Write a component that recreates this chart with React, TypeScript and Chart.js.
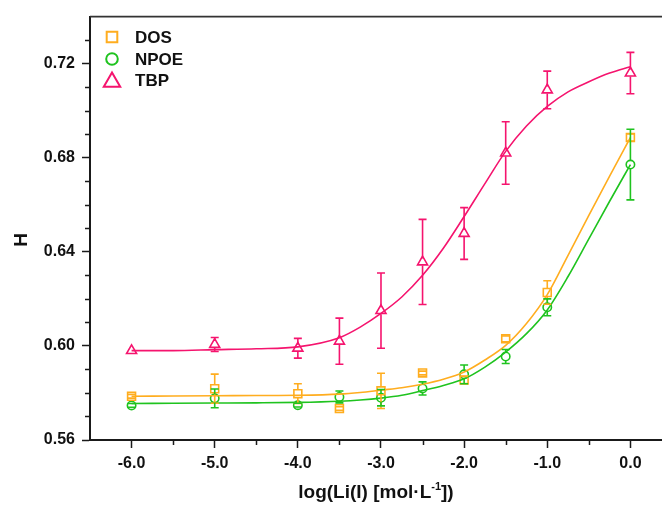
import React, { useEffect, useRef } from 'react';
import { Chart, registerables } from 'chart.js';

Chart.register(...registerables);

// ---- Data ----
const concentrations = [-6, -5, -4, -3.5, -3, -2.5, -2, -1.5, -1, 0];

const dosValues = [0.5786, 0.5818, 0.5797, 0.5734, 0.5809, 0.5885, 0.5855, 0.6030, 0.6227, 0.6886];
const dosErrors = [0.0008, 0.0062, 0.0042, 0.0008, 0.0075, 0.0008, 0.0015, 0.0012, 0.005, 0.0015];

const npoeValues = [0.5747, 0.5777, 0.5748, 0.5783, 0.5780, 0.5819, 0.5879, 0.5955, 0.6164, 0.6771];
const npoeErrors = [0.0008, 0.004, 0.0008, 0.0025, 0.0035, 0.0028, 0.004, 0.003, 0.0036, 0.015];

const tbpValues = [0.5980, 0.6006, 0.5990, 0.6020, 0.6150, 0.6357, 0.6478, 0.6820, 0.7088, 0.7160];
const tbpErrors = [0, 0.003, 0.0042, 0.0098, 0.016, 0.0181, 0.011, 0.0133, 0.008, 0.0088];

// fitted curves
const fitX = [-6, -5.5, -5, -4.5, -4, -3.5, -3.25, -3, -2.75, -2.5, -2.25, -2, -1.75, -1.5, -1.25, -1, -0.75, -0.5, -0.25, 0];
const dosFit = [0.5786, 0.5787, 0.5788, 0.5789, 0.579, 0.5795, 0.5802, 0.5812, 0.5822, 0.5837, 0.5858, 0.5889, 0.594, 0.6002, 0.6095, 0.6218, 0.6385, 0.6555, 0.6722, 0.6886];
const npoeFit = [0.5755, 0.5756, 0.5757, 0.5758, 0.576, 0.5765, 0.577, 0.5778, 0.579, 0.581, 0.5832, 0.586, 0.591, 0.5974, 0.6052, 0.6153, 0.6295, 0.6455, 0.6615, 0.6771];
const tbpFit = [0.598, 0.598, 0.5984, 0.5988, 0.5996, 0.6035, 0.608, 0.6138, 0.6208, 0.630, 0.6415, 0.655, 0.669, 0.6827, 0.6935, 0.7018, 0.708, 0.7123, 0.716, 0.7187];

const xTickValues = [-6, -5, -4, -3, -2, -1, 0];
const xMinorValues = [-5.5, -4.5, -3.5, -2.5, -1.5, -0.5];
const yTickValues = [0.56, 0.60, 0.64, 0.68, 0.72];
const yMinorValues = [0.57, 0.58, 0.59, 0.61, 0.62, 0.63, 0.65, 0.66, 0.67, 0.69, 0.70, 0.71, 0.73];

const seriesNames = ['DOS', 'NPOE', 'TBP'];

const COLORS = ['#FFAD1F', '#1FC31F', '#F5146E'];
const STYLES = ['rect', 'circle', 'triangle'];
const AXIS = '#1a1a1a';
const FONT = '"Liberation Sans", Arial, sans-serif';

function pts(xs: number[], ys: number[]) {
  return xs.map((x, i) => ({ x, y: ys[i] }));
}

function markerPath(ctx: CanvasRenderingContext2D, style: string, x: number, y: number, r: number) {
  ctx.beginPath();
  if (style === 'rect') {
    const s = r * Math.SQRT1_2;
    ctx.rect(x - s, y - s, 2 * s, 2 * s);
  } else if (style === 'circle') {
    ctx.arc(x, y, r, 0, Math.PI * 2);
  } else {
    ctx.moveTo(x, y - r);
    ctx.lineTo(x + r * Math.sin(Math.PI * 2 / 3), y - r * Math.cos(Math.PI * 2 / 3));
    ctx.lineTo(x - r * Math.sin(Math.PI * 2 / 3), y - r * Math.cos(Math.PI * 2 / 3));
    ctx.closePath();
  }
}

const errorBarPlugin = {
  id: 'errorBars',
  afterDatasetsDraw(chart: any) {
    const { ctx } = chart;
    const x = chart.scales.x;
    const y = chart.scales.y;
    chart.data.datasets.forEach((ds: any) => {
      const errs: number[] | undefined = ds.errorBars;
      if (!errs) return;
      ctx.save();
      ctx.strokeStyle = ds.borderColor;
      ctx.lineWidth = 1.6;
      ds.data.forEach((pt: any, j: number) => {
        if (!errs[j]) return;
        const px = x.getPixelForValue(pt.x);
        const py = y.getPixelForValue(pt.y);
        const top = y.getPixelForValue(pt.y + errs[j]);
        const bot = y.getPixelForValue(pt.y - errs[j]);
        const gap = ds.errorGap;
        ctx.beginPath();
        if (py - top > gap) { ctx.moveTo(px, top); ctx.lineTo(px, py - gap); }
        if (bot - py > gap) { ctx.moveTo(px, py + gap); ctx.lineTo(px, bot); }
        ctx.moveTo(px - 4, top); ctx.lineTo(px + 4, top);
        ctx.moveTo(px - 4, bot); ctx.lineTo(px + 4, bot);
        ctx.stroke();
      });
      ctx.restore();
    });
  },
};

const decorPlugin = {
  id: 'decor',
  afterDraw(chart: any) {
    const { ctx, chartArea } = chart;
    const x = chart.scales.x;
    const y = chart.scales.y;
    ctx.save();
    // top frame line
    ctx.strokeStyle = '#333';
    ctx.lineWidth = 1.6;
    ctx.beginPath();
    ctx.moveTo(chartArea.left, chartArea.top);
    ctx.lineTo(chart.width, chartArea.top);
    ctx.stroke();
    // minor ticks
    ctx.strokeStyle = AXIS;
    ctx.lineWidth = 1.5;
    ctx.beginPath();
    yMinorValues.forEach((v) => {
      const py = Math.round(y.getPixelForValue(v)) + 0.5;
      ctx.moveTo(chartArea.left, py);
      ctx.lineTo(chartArea.left - 5, py);
    });
    xMinorValues.forEach((v) => {
      const px = Math.round(x.getPixelForValue(v)) + 0.5;
      ctx.moveTo(px, chartArea.bottom);
      ctx.lineTo(px, chartArea.bottom + 5);
    });
    ctx.stroke();

    // legend
    const legX = chartArea.left + 22;
    const textX = chartArea.left + 45;
    const rows = [37, 59, 80];
    const sizes = [7.5, 5.8, 9.5];
    ctx.lineWidth = 2;
    seriesNames.forEach((name, i) => {
      ctx.strokeStyle = COLORS[i];
      const cy = i === 2 ? rows[i] + 2 : rows[i];
      markerPath(ctx, STYLES[i], legX, cy, sizes[i]);
      ctx.stroke();
      ctx.fillStyle = '#111';
      ctx.font = `bold 17px ${FONT}`;
      ctx.textAlign = 'left';
      ctx.textBaseline = 'middle';
      ctx.fillText(name, textX, rows[i] + 1);
    });

    // axis titles
    ctx.fillStyle = '#111';
    ctx.font = `bold 19px ${FONT}`;
    ctx.save();
    ctx.translate(22, 240);
    ctx.rotate(-Math.PI / 2);
    ctx.textAlign = 'center';
    ctx.textBaseline = 'middle';
    ctx.fillText('H', 0, 0);
    ctx.restore();

    const main = 'log(Li(I) [mol·L';
    const sup = '-1';
    const tail = '])';
    ctx.font = `bold 19px ${FONT}`;
    const wMain = ctx.measureText(main).width;
    const wTail = ctx.measureText(tail).width;
    ctx.font = `bold 11px ${FONT}`;
    const wSup = ctx.measureText(sup).width;
    const total = wMain + wSup + wTail;
    const cx = (chartArea.left + chartArea.right) / 2;
    let tx = cx - total / 2;
    const base = 498;
    ctx.textAlign = 'left';
    ctx.textBaseline = 'alphabetic';
    ctx.font = `bold 19px ${FONT}`;
    ctx.fillText(main, tx, base);
    tx += wMain;
    ctx.font = `bold 11px ${FONT}`;
    ctx.fillText(sup, tx, base - 8);
    tx += wSup;
    ctx.font = `bold 19px ${FONT}`;
    ctx.fillText(tail, tx, base);
    ctx.restore();
  },
};

export default function App() {
  const ref = useRef<HTMLCanvasElement | null>(null);

  useEffect(() => {
    document.body.style.margin = '0';
    const canvas = ref.current;
    if (!canvas) return;

    const values = [dosValues, npoeValues, tbpValues];
    const errors = [dosErrors, npoeErrors, tbpErrors];
    const fits = [dosFit, npoeFit, tbpFit];
    const radii = [5.6, 4.2, 5.8];
    const gaps = [4, 4.2, 3.5];

    const datasets: any[] = [];
    seriesNames.forEach((name, i) => {
      datasets.push({
        label: name + ' fit',
        data: pts(fitX, fits[i]),
        showLine: true,
        borderColor: COLORS[i],
        borderWidth: 1.6,
        pointRadius: 0,
        cubicInterpolationMode: 'monotone',
        fill: false,
      });
    });
    seriesNames.forEach((name, i) => {
      datasets.push({
        label: name,
        data: pts(concentrations, values[i]),
        showLine: false,
        borderColor: COLORS[i],
        backgroundColor: 'rgba(0,0,0,0)',
        pointStyle: STYLES[i],
        pointRadius: radii[i],
        pointBorderWidth: 1.6,
        errorBars: errors[i],
        errorGap: gaps[i],
      });
    });

    const chart = new Chart(canvas, {
      type: 'scatter',
      data: { datasets },
      plugins: [errorBarPlugin, decorPlugin],
      options: {
        responsive: false,
        animation: false,
        layout: { autoPadding: false, padding: { top: 15, right: 0, left: 0, bottom: 0 } },
        plugins: { legend: { display: false }, tooltip: { enabled: false } },
        scales: {
          x: {
            type: 'linear',
            min: -6.5,
            max: 0.38,
            afterFit: (s: any) => { s.height = 66; },
            afterBuildTicks: (s: any) => { s.ticks = xTickValues.map((v) => ({ value: v })); },
            ticks: {
              callback: (v: any) => Number(v).toFixed(1),
              color: '#111',
              font: { family: FONT, size: 16, weight: 'bold' },
              padding: 6,
              maxRotation: 0,
            },
            grid: { drawOnChartArea: false, drawTicks: true, tickLength: 8, tickColor: AXIS, tickWidth: 1.5 },
            border: { display: true, color: AXIS, width: 2 },
          },
          y: {
            type: 'linear',
            min: 0.56,
            max: 0.74,
            afterFit: (s: any) => { s.width = 90; },
            afterBuildTicks: (s: any) => { s.ticks = yTickValues.map((v) => ({ value: v })); },
            ticks: {
              callback: (v: any) => Number(v).toFixed(2),
              color: '#111',
              font: { family: FONT, size: 16, weight: 'bold' },
              padding: 7,
            },
            grid: { drawOnChartArea: false, drawTicks: true, tickLength: 8, tickColor: AXIS, tickWidth: 1.5 },
            border: { display: true, color: AXIS, width: 2 },
          },
        },
      } as any,
    });

    return () => chart.destroy();
  }, []);

  return (
    <div style={{ position: 'absolute', left: 0, top: 0, width: 662, height: 506, background: '#fff' }}>
      <canvas ref={ref} width={662} height={506} />
    </div>
  );
}
